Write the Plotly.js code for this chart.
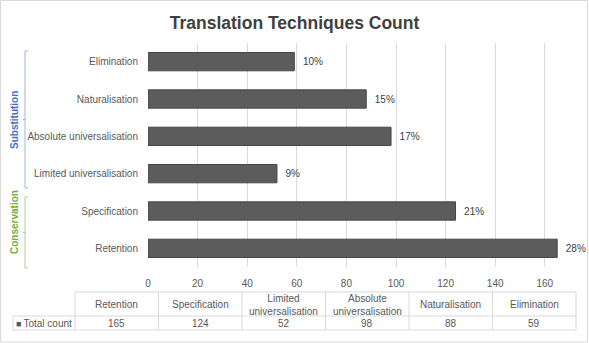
<!DOCTYPE html>
<html>
<head>
<meta charset="utf-8">
<script src="https://cdn.plot.ly/plotly-3.0.1.min.js"></script>
<style>html,body{margin:0;padding:0;background:#fff;}#chart{width:589px;height:343px;}</style>
</head>
<body>
<div id="chart"></div>
<script>
const categories = ['Retention', 'Specification', 'Limited universalisation', 'Absolute universalisation', 'Naturalisation', 'Elimination'];
const totalCount = [165, 124, 52, 98, 88, 59];
const percentLabels = ['28%', '21%', '9%', '17%', '15%', '10%'];
const tableHeaders = ['Retention', 'Specification', 'Limited<br>universalisation', 'Absolute<br>universalisation', 'Naturalisation', 'Elimination'];
const seriesName = 'Total count';
const xTicks = [0, 20, 40, 60, 80, 100, 120, 140, 160];
const groupNames = ['Substitution', 'Conservation'];

const W = 589, H = 343;
const px = v => v / W, py = v => (H - v) / H;
const FONT = 'Liberation Sans, Arial, sans-serif';
const TXT = '#595959';
const GRID = '#d9d9d9';

const bar = {
  type: 'bar', orientation: 'h', y: categories, x: totalCount,
  text: percentLabels, texttemplate: '\u00a0\u00a0%{text}', textposition: 'outside', cliponaxis: false,
  textfont: {family: FONT, size: 10, color: '#404040'},
  marker: {color: '#5c5c5c', line: {color: '#464646', width: 1}},
  hoverinfo: 'skip', showlegend: false
};

// ---- data table (built from the arrays above) ----
const tLeft = 13, tColStart = 75, tRight = 576;
const rTop = 292, rMid = 316, rBot = 330;
const colW = (tRight - tColStart) / tableHeaders.length;
const shapes = [];
const annotations = [];
const L = (x0, y0, x1, y1, c) => shapes.push({type: 'line', xref: 'paper', yref: 'paper',
  x0: px(x0), y0: py(y0), x1: px(x1), y1: py(y1), line: {color: c || GRID, width: 1}});
L(tColStart, rTop, tRight, rTop);
L(tLeft, rMid, tRight, rMid);
L(tLeft, rBot, tRight, rBot);
L(tLeft, rMid, tLeft, rBot);
for (let i = 0; i <= tableHeaders.length; i++) L(tColStart + i * colW, rTop, tColStart + i * colW, rBot);
tableHeaders.forEach((h, i) => {
  annotations.push({text: h, xref: 'paper', yref: 'paper', x: px(tColStart + (i + 0.5) * colW), y: py((rTop + rMid) / 2 + 0.5),
    showarrow: false, xanchor: 'center', yanchor: 'middle', font: {family: FONT, size: 10, color: TXT}});
  annotations.push({text: String(totalCount[i]), xref: 'paper', yref: 'paper', x: px(tColStart + (i + 0.5) * colW), y: py((rMid + rBot) / 2),
    showarrow: false, xanchor: 'center', yanchor: 'middle', font: {family: FONT, size: 10, color: TXT}});
});
annotations.push({text: '<span style="font-size:9px;color:#595959">■</span>\u2009' + seriesName, xref: 'paper', yref: 'paper',
  x: px(tLeft + 1), y: py((rMid + rBot) / 2), showarrow: false, xanchor: 'left', yanchor: 'middle',
  font: {family: FONT, size: 10, color: TXT}});

// chart border
shapes.push({type: 'rect', xref: 'paper', yref: 'paper', x0: px(0.5), x1: px(587.5), y0: py(342), y1: py(0.5), line: {color: GRID, width: 1}});
// group brackets
const brackets = [
  {name: groupNames[0], x: 25, top: 51, bot: 188, color: '#9db5e3', txt: '#4472c4', labelY: 120},
  {name: groupNames[1], x: 25, top: 197, bot: 268, color: '#a9d18e', txt: '#70ad47', labelY: 222}
];
brackets.forEach(b => {
  const mid = (b.top + b.bot) / 2;
  shapes.push({type: 'path', xref: 'paper', yref: 'paper', line: {color: b.color, width: 1},
    path: `M ${px(b.x + 3)} ${py(b.top)} L ${px(b.x)} ${py(b.top)} L ${px(b.x)} ${py(b.bot)} L ${px(b.x + 3)} ${py(b.bot)} M ${px(b.x)} ${py(mid)} L ${px(b.x - 2)} ${py(mid)}`});
  annotations.push({text: '<b>' + b.name + '</b>', xref: 'paper', yref: 'paper', x: px(14), y: py(b.labelY), textangle: -90,
    showarrow: false, xanchor: 'center', yanchor: 'middle', font: {family: FONT, size: 10, color: b.txt}});
});

const layout = {
  width: W, height: H,
  margin: {l: 0, r: 0, t: 0, b: 0},
  paper_bgcolor: 'white', plot_bgcolor: 'white',
  font: {family: FONT, color: TXT},
  title: {text: '<b>Translation Techniques Count</b>', x: 0.5, xanchor: 'center', y: py(22.5), yanchor: 'middle',
          font: {family: FONT, size: 17.5, color: '#404040'}},
  bargap: 0.51,
  xaxis: {domain: [px(148), px(148 + 170 * 2.48)], range: [0, 170], tickvals: xTicks,
          showgrid: true, gridcolor: GRID, gridwidth: 1, zeroline: false, showline: false,
          tickfont: {family: FONT, size: 10, color: TXT}, ticks: '', ticklabelstandoff: 9, fixedrange: true},
  yaxis: {domain: [py(267), py(43)], type: 'category', categoryorder: 'array', categoryarray: categories,
          showgrid: false, zeroline: false, showline: false, ticks: '', ticklabelstandoff: 9,
          tickfont: {family: FONT, size: 10, color: TXT}, fixedrange: true},
  shapes: shapes,
  annotations: annotations
};

Plotly.newPlot('chart', [bar], layout, {displayModeBar: false, staticPlot: true});
</script>
</body>
</html>
